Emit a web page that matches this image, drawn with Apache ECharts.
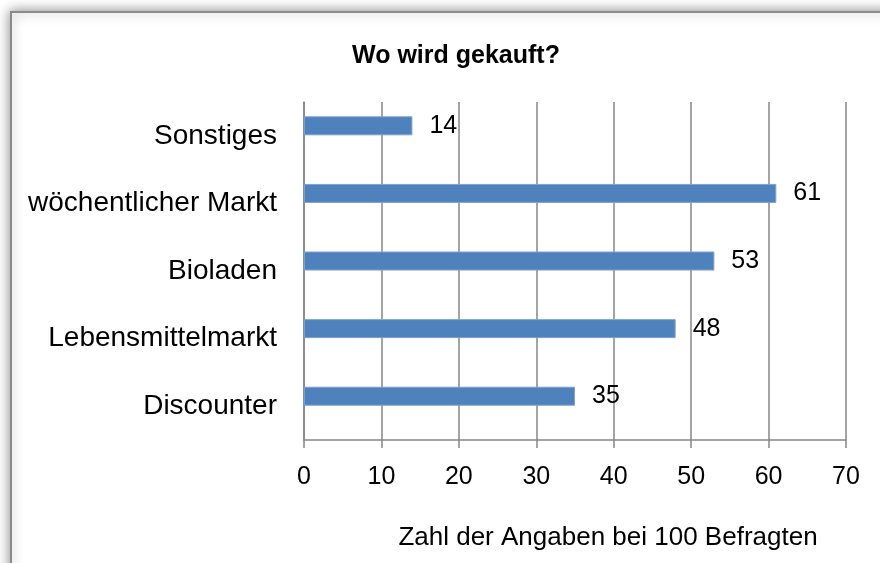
<!DOCTYPE html>
<html>
<head>
<meta charset="utf-8">
<script src="https://cdn.jsdelivr.net/npm/echarts@6/dist/echarts.min.js"></script>
<style>html,body{margin:0;padding:0;background:#fff}#c{width:880px;height:563px}</style>
</head>
<body>
<div id="c"></div>
<script>
const categories = ['Sonstiges', 'wöchentlicher Markt', 'Bioladen', 'Lebensmittelmarkt', 'Discounter'];
const values = [14, 61, 53, 48, 35];
const emptyValues = [null, null, null, null, null];
const xTicks = [0, 10, 20, 30, 40, 50, 60, 70];
const titleText = 'Wo wird gekauft?';
const axisTitle = 'Zahl der Angaben bei 100 Befragten';

const FONT = 'Liberation Sans';
const chart = echarts.init(document.getElementById('c'), null, {renderer: 'canvas'});
chart.setOption({
  backgroundColor: '#fff',
  animation: false,
  graphic: [
    {type: 'rect', shape: {x: 11, y: 12, width: 900, height: 600}, z: -10,
     style: {fill: '#fff', stroke: '#8a8a8a', lineWidth: 2, shadowBlur: 12, shadowColor: 'rgba(0,0,0,0.45)'}},
    {type: 'text', x: 608, y: 538, style: {text: axisTitle, font: '26px "' + FONT + '"', fill: '#000', align: 'center', verticalAlign: 'middle'}}
  ],
  title: {
    text: titleText, left: 451, top: 39, textAlign: 'center',
    textStyle: {fontFamily: FONT, fontWeight: 'bold', fontSize: 25, color: '#000'}
  },
  grid: {left: 304, right: 34, top: 102, bottom: 123, containLabel: false},
  xAxis: {
    type: 'value', min: 0, max: 70, interval: 10,
    axisLine: {show: true, lineStyle: {color: '#868686', width: 1.5}},
    axisTick: {show: true, length: 8, lineStyle: {color: '#868686', width: 1.5}},
    axisLabel: {fontFamily: FONT, fontSize: 25, color: '#000', margin: 25,
      formatter: v => xTicks.includes(v) ? String(v) : ''},
    splitLine: {show: true, lineStyle: {color: '#868686', width: 1.5}}
  },
  yAxis: {
    type: 'category', data: categories, inverse: true,
    axisLine: {show: true, lineStyle: {color: '#868686', width: 1.5}},
    axisTick: {show: false},
    axisLabel: {fontFamily: FONT, fontSize: 28, color: '#000', margin: 27}
  },
  series: [{
    type: 'bar', data: values, barWidth: 19, barGap: '5%',
    itemStyle: {color: '#4f81bd', borderColor: '#7ea1d0', borderWidth: 1},
    label: {show: true, position: 'right', distance: 17, fontFamily: FONT, fontSize: 25, color: '#000'}
  }, {
    type: 'bar', data: emptyValues, barWidth: 19, barGap: '5%'
  }]
});
</script>
</body>
</html>
